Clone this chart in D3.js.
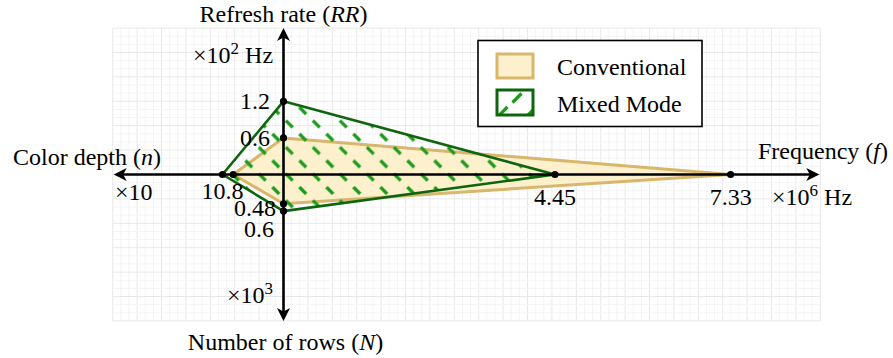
<!DOCTYPE html>
<html>
<head>
<meta charset="utf-8">
<script src="https://cdn.jsdelivr.net/npm/d3@7"></script>
<style>
  body { margin: 0; background: #fff; }
  svg { display: block; }
  text { font-family: "Liberation Serif", "Times New Roman", serif; font-size: 24px; fill: #000; }
</style>
</head>
<body>
<svg id="chart" width="893" height="358"></svg>
<script>
// Four axes of the star plot: left, up, right, down
const axisKeys = ["n", "RR", "f", "N"];
const seriesNames = ["Conventional", "Mixed Mode"];
const conventionalValues = [8.9, 0.6, 7.33, 0.48];
const mixedValues = [10.8, 1.2, 4.45, 0.6];
// Values that carry a printed label, per axis
const labelledValues = {
  n: [10.8],
  RR: [1.2, 0.6],
  f: [4.45, 7.33],
  N: [0.48, 0.6]
};

const svg = d3.select("#chart");
const x0 = 283.5, y0 = 174.5;

// One scale per axis, each measured outward from the common origin
const fScale = d3.scaleLinear().domain([-2.8, 8.8]).range([x0 - 2.8 * 61, x0 + 8.8 * 61]);
const nScale = d3.scaleLinear().domain([0, 10.8]).range([x0, x0 - 61]);
const rrScale = d3.scaleLinear().domain([0, 2.4]).range([y0, y0 - 2.4 * 61]);
const NScale = d3.scaleLinear().domain([0, 2.4]).range([y0, y0 + 2.4 * 61]);

function vertex(key, v) {
  if (key === "n") return [nScale(v), y0];
  if (key === "RR") return [x0, rrScale(v)];
  if (key === "f") return [fScale(v), y0];
  return [x0, NScale(v)];
}
const convPts = axisKeys.map((k, i) => vertex(k, conventionalValues[i]));
const mixPts = axisKeys.map((k, i) => vertex(k, mixedValues[i]));

// ---- graph-paper grid ----
const major = 0.4, minorCount = 3;
const gy = d3.scaleLinear().domain([-2.4, 2.4]).range([y0 + 2.4 * 61, y0 - 2.4 * 61]);
const grid = svg.append("g");
const step = major / minorCount;
const xs = d3.range(Math.round(-2.8 / step), Math.round(8.8 / step) + 1);
const ys = d3.range(Math.round(-2.4 / step), Math.round(2.4 / step) + 1);
grid.selectAll(".vx").data(xs).join("line")
  .attr("x1", i => fScale(i * step)).attr("x2", i => fScale(i * step))
  .attr("y1", gy(2.4)).attr("y2", gy(-2.4))
  .attr("stroke", i => i % minorCount === 0 ? "#e8e8e8" : "#f4f4f4").attr("stroke-width", 1);
grid.selectAll(".hy").data(ys).join("line")
  .attr("y1", i => gy(i * step)).attr("y2", i => gy(i * step))
  .attr("x1", fScale(-2.8)).attr("x2", fScale(8.8))
  .attr("stroke", i => i % minorCount === 0 ? "#e8e8e8" : "#f4f4f4").attr("stroke-width", 1);

// ---- hatch pattern for the mixed-mode area ----
const defs = svg.append("defs");
const pat = defs.append("pattern").attr("id", "hatch")
  .attr("patternUnits", "userSpaceOnUse")
  .attr("x", 343.3).attr("y", 124).attr("width", 27).attr("height", 26.6);
const dashCentres = [[0, 0], [27, 0], [0, 26.6], [27, 26.6], [13.5, 13.3]];
pat.selectAll("line").data(dashCentres).join("line")
  .attr("x1", d => d[0] - 3.4).attr("y1", d => d[1] - 3.4)
  .attr("x2", d => d[0] + 3.4).attr("y2", d => d[1] + 3.4)
  .attr("stroke", "#1c9a1c").attr("stroke-width", 3.3);

const line = d3.line().curve(d3.curveLinearClosed);

svg.append("path").attr("d", line(convPts))
  .attr("fill", "#fdf0cd").attr("stroke", "#d8b66c").attr("stroke-width", 3)
  .attr("stroke-linejoin", "round");
svg.append("path").attr("d", line(mixPts))
  .attr("fill", "url(#hatch)").attr("stroke", "#0d650d").attr("stroke-width", 2.6)
  .attr("stroke-linejoin", "round");

// ---- axes with arrowheads ----
const axesG = svg.append("g");
const xL = fScale(-2.8) + 1, xR = fScale(8.8) - 1, yT = rrScale(2.4), yB = NScale(2.4);
axesG.append("line").attr("x1", xL + 4).attr("x2", xR - 4).attr("y1", y0).attr("y2", y0)
  .attr("stroke", "#000").attr("stroke-width", 2.6);
axesG.append("line").attr("y1", yT + 4).attr("y2", yB - 4).attr("x1", x0).attr("x2", x0)
  .attr("stroke", "#000").attr("stroke-width", 2.6);
function arrow(tipX, tipY, angle) {
  const L = 13, W = 6.5, notch = 3.5;
  const p = [[0, 0], [-L, -W], [-L + notch, 0], [-L, W]];
  const c = Math.cos(angle), s = Math.sin(angle);
  const pts = p.map(([a, b]) => [tipX + a * c - b * s, tipY + a * s + b * c]);
  axesG.append("path").attr("d", "M" + pts.join("L") + "Z").attr("fill", "#000");
}
arrow(xR, y0, 0);
arrow(xL, y0, Math.PI);
arrow(x0, yT, -Math.PI / 2);
arrow(x0, yB, Math.PI / 2);

// ---- vertex dots ----
svg.selectAll(".dot").data(convPts.concat(mixPts)).join("circle")
  .attr("cx", d => d[0]).attr("cy", d => d[1]).attr("r", 3.6).attr("fill", "#000");

// ---- value labels ----
const lab = svg.append("g");
labelledValues.RR.forEach(v => {
  lab.append("text").attr("x", 270).attr("y", rrScale(v) + 8)
    .attr("text-anchor", "end").text(v);
});
const belowRowOffsets = [12, 26];
labelledValues.N.forEach((v, i) => {
  lab.append("text").attr("x", 276 - i * 2).attr("y", NScale(v) + belowRowOffsets[i])
    .attr("text-anchor", "end").text(v);
});
labelledValues.n.forEach(v => {
  lab.append("text").attr("x", nScale(v)).attr("y", y0 + 24)
    .attr("text-anchor", "middle").text(v);
});
labelledValues.f.forEach(v => {
  lab.append("text").attr("x", fScale(v)).attr("y", y0 + 30)
    .attr("text-anchor", "middle").text(v.toFixed(2));
});

// ---- axis titles and units ----
function richText(x, y, anchor, parts) {
  const t = svg.append("text").attr("x", x).attr("y", y).attr("text-anchor", anchor);
  let shift = 0;
  parts.forEach(p => {
    const ts = t.append("tspan").text(p.t);
    if (p.it) ts.attr("font-style", "italic");
    const target = p.sup ? -9 : 0;
    if (target !== shift) { ts.attr("dy", target - shift); shift = target; }
    if (p.sup) ts.attr("font-size", 17);
  });
  return t;
}
richText(x0, 22, "middle", [{t: "Refresh rate ("}, {t: "RR", it: true}, {t: ")"}]);
richText(193, 63, "start", [{t: "×10"}, {t: "2", sup: true}, {t: " Hz"}]);
richText(13, 165, "start", [{t: "Color depth ("}, {t: "n", it: true}, {t: ")"}]);
richText(115, 200, "start", [{t: "×10"}]);
richText(758, 159, "start", [{t: "Frequency ("}, {t: "f", it: true}, {t: ")"}]);
richText(772, 205, "start", [{t: "×10"}, {t: "6", sup: true}, {t: " Hz"}]);
richText(227, 303, "start", [{t: "×10"}, {t: "3", sup: true}]);
richText(x0 + 2, 350, "middle", [{t: "Number of rows ("}, {t: "N", it: true}, {t: ")"}]);

// ---- legend ----
const leg = svg.append("g");
leg.append("rect").attr("x", 478).attr("y", 40.5).attr("width", 224).attr("height", 86)
  .attr("fill", "#fff").attr("stroke", "#000").attr("stroke-width", 1.6);
leg.append("rect").attr("x", 497).attr("y", 54).attr("width", 36).attr("height", 24)
  .attr("fill", "#fdf0cd").attr("stroke", "#d8b66c").attr("stroke-width", 3);
defs.append("clipPath").attr("id", "swclip").append("rect")
  .attr("x", 497).attr("y", 90).attr("width", 36).attr("height", 25);
const sw = leg.append("g").attr("clip-path", "url(#swclip)");
sw.selectAll("line").data([[517, 98], [503, 111.5], [531, 112]]).join("line")
  .attr("x1", d => d[0] - 4.5).attr("y1", d => d[1] + 4.5)
  .attr("x2", d => d[0] + 4.5).attr("y2", d => d[1] - 4.5)
  .attr("stroke", "#1c9a1c").attr("stroke-width", 3.2);
leg.append("rect").attr("x", 497).attr("y", 90).attr("width", 36).attr("height", 25)
  .attr("fill", "none").attr("stroke", "#0d650d").attr("stroke-width", 3);
leg.selectAll(".lt").data(seriesNames).join("text")
  .attr("x", 557).attr("y", (d, i) => 75 + i * 36.5).text(d => d);
</script>
</body>
</html>
